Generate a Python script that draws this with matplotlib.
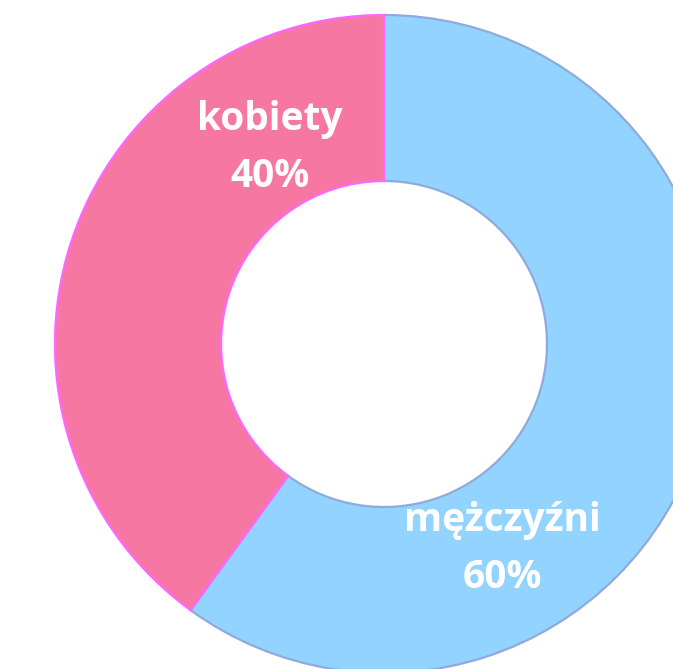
import matplotlib.pyplot as plt

labels = ["kobiety", "mężczyźni"]
shares = [40, 60]
colors = ["#F777A3", "#92D3FF"]
edge_colors = ["#FF66FF", "#8FAADC"]

W, H = 673, 669
fig = plt.figure(figsize=(W / 100, H / 100), dpi=100)
ax = fig.add_axes([0, 0, 1, 1])

cx, cy = 384, H - 344
radius = 329
wedges, _ = ax.pie(
    shares,
    colors=colors,
    startangle=90,
    counterclock=True,
    radius=radius,
    center=(cx, cy),
    wedgeprops=dict(width=166, linewidth=1.6),
)
for w, ec in zip(wedges, edge_colors):
    w.set_edgecolor(ec)
wedges[0].set_zorder(3)

ax.set_xlim(0, W)
ax.set_ylim(0, H)
ax.set_aspect("auto")
ax.axis("off")

font = dict(family=["Open Sans", "DejaVu Sans"], weight="bold", color="white",
            fontsize=28, ha="center", va="center", linespacing=1.6)
ax.text(270, H - 148, f"{labels[0]}\n{shares[0]}%", **font)
ax.text(502, H - 549, f"{labels[1]}\n{shares[1]}%", **font)

fig.savefig("out.png", dpi=100)
